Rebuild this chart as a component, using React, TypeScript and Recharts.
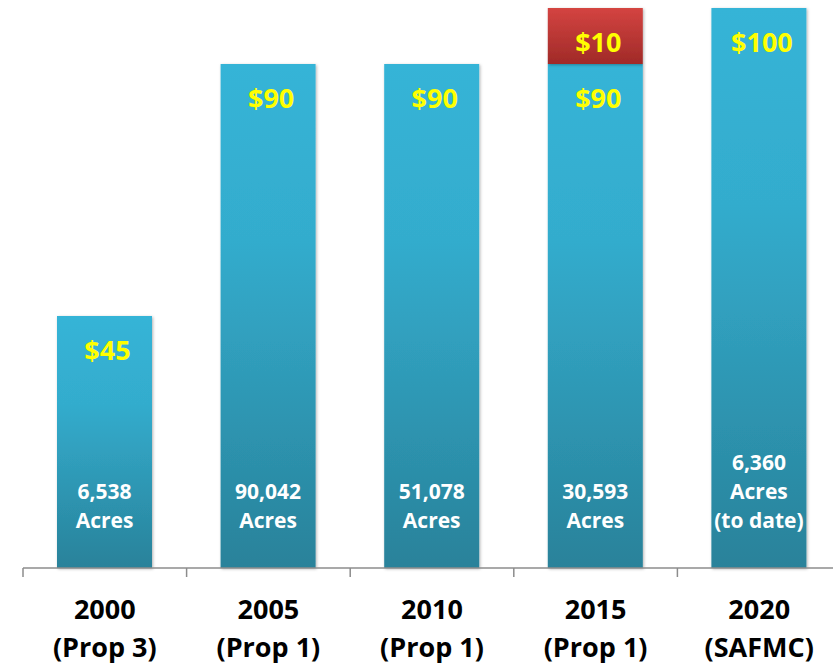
import { BarChart, Bar, XAxis, YAxis, LabelList } from 'recharts';

const years = ['2000', '2005', '2010', '2015', '2020'];
const programs = ['(Prop 3)', '(Prop 1)', '(Prop 1)', '(Prop 1)', '(SAFMC)'];
const baseFunding = [45, 90, 90, 90, 100];
const extraFunding = [null, null, null, 10, null];
const acreLines = [
  ['6,538', 'Acres'],
  ['90,042', 'Acres'],
  ['51,078', 'Acres'],
  ['30,593', 'Acres'],
  ['6,360', 'Acres', '(to date)'],
];

const data = years.map((year, i) => ({
  year,
  program: programs[i],
  base: baseFunding[i],
  extra: extraFunding[i],
}));

const CHART_W = 841;
const CHART_H = 671;
const MARGIN = { top: 8, right: 0, bottom: 3, left: 23 };
const BAND = (CHART_W - MARGIN.left - MARGIN.right) / years.length;
const FONT = "'Open Sans', sans-serif";

const CategoryTick = (props: any) => {
  const { x, y, payload, index } = props;
  return (
    <g>
      <line x1={x - BAND / 2} x2={x - BAND / 2} y1={y} y2={y + 9} stroke="#8c8c8c" strokeWidth={1.5} />
      {index === years.length - 1 && (
        <line x1={x + BAND / 2} x2={x + BAND / 2} y1={y} y2={y + 9} stroke="#8c8c8c" strokeWidth={1.5} />
      )}
      <text x={x} y={y + 51} textAnchor="middle" fontFamily={FONT} fontWeight={700} fontSize={27} fill="#000">
        {payload.value}
      </text>
      <text x={x} y={y + 89} textAnchor="middle" fontFamily={FONT} fontWeight={700} fontSize={27} fill="#000">
        {programs[index]}
      </text>
    </g>
  );
};

const MoneyLabel = (props: any) => {
  const { x, y, width, value } = props;
  if (value == null || value === 0) return null;
  return (
    <text x={x + width / 2 + 3} y={y + 44} textAnchor="middle" fontFamily={FONT} fontWeight={700} fontSize={27} fill="#ffff00">
      ${value}
    </text>
  );
};

const AcresLabel = (props: any) => {
  const { x, y, width, height, index } = props;
  const lines = acreLines[index];
  const bottom = y + height;
  return (
    <g>
      {lines.map((line, i) => (
        <text
          key={i}
          x={x + width / 2}
          y={bottom - 40 - (lines.length - 1 - i) * 29}
          textAnchor="middle"
          fontFamily={FONT}
          fontWeight={700}
          fontSize={21}
          fill="#ffffff"
        >
          {line}
        </text>
      ))}
    </g>
  );
};

export default function App() {
  return (
    <div style={{ position: 'absolute', left: 0, top: 0, width: 833, height: 671, overflow: 'hidden', background: '#fff' }}>
      <BarChart width={CHART_W} height={CHART_H} data={data} margin={MARGIN} barSize={95}>
        <defs>
          <linearGradient id="blueFill" x1="0" y1="0" x2="0" y2="1">
            <stop offset="0%" stopColor="#36b4d7" />
            <stop offset="35%" stopColor="#33accd" />
            <stop offset="100%" stopColor="#29829a" />
          </linearGradient>
          <linearGradient id="redFill" x1="0" y1="0" x2="0" y2="1">
            <stop offset="0%" stopColor="#d44441" />
            <stop offset="100%" stopColor="#a02a28" />
          </linearGradient>
          <filter id="barShadow" x="-10%" y="-10%" width="120%" height="120%">
            <feDropShadow dx="1" dy="1" stdDeviation="1.5" floodColor="#000" floodOpacity="0.3" />
          </filter>
        </defs>
        <XAxis
          dataKey="year"
          height={100}
          tickSize={0}
          tickMargin={0}
          tickLine={false}
          axisLine={{ stroke: '#8c8c8c', strokeWidth: 1.5 }}
          tick={<CategoryTick />}
          interval={0}
        />
        <YAxis hide domain={[0, 100]} />
        <Bar dataKey="base" stackId="a" fill="url(#blueFill)" filter="url(#barShadow)" isAnimationActive={false}>
          <LabelList dataKey="base" content={<MoneyLabel />} />
          <LabelList dataKey="base" content={<AcresLabel />} />
        </Bar>
        <Bar dataKey="extra" stackId="a" fill="url(#redFill)" filter="url(#barShadow)" isAnimationActive={false}>
          <LabelList dataKey="extra" content={<MoneyLabel />} />
        </Bar>
      </BarChart>
    </div>
  );
}
